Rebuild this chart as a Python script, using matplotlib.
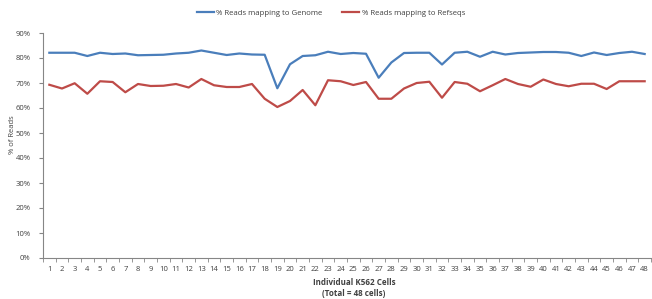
import matplotlib.pyplot as plt
import numpy as np
from matplotlib.ticker import FixedLocator, PercentFormatter

cells = list(range(1, 49))

genome_pct = [82.1, 82.1, 82.1, 80.8, 82.1, 81.6, 81.8, 81.1, 81.2, 81.3,
              81.8, 82.1, 83.0, 82.1, 81.2, 81.8, 81.4, 81.3, 67.9, 77.5,
              80.8, 81.1, 82.5, 81.6, 82.0, 81.7, 72.1, 78.2, 82.0, 82.1,
              82.1, 77.4, 82.1, 82.5, 80.5, 82.5, 81.4, 82.0, 82.2, 82.4,
              82.4, 82.1, 80.8, 82.2, 81.2, 82.0, 82.5, 81.6]

refseq_pct = [69.3, 67.8, 69.9, 65.7, 70.7, 70.4, 66.3, 69.6, 68.8, 68.9,
              69.6, 68.2, 71.6, 69.1, 68.4, 68.4, 69.6, 63.7, 60.4, 62.8,
              67.2, 61.1, 71.1, 70.7, 69.2, 70.4, 63.7, 63.7, 67.8, 70.0,
              70.5, 64.1, 70.4, 69.7, 66.7, 69.1, 71.6, 69.6, 68.5, 71.4,
              69.6, 68.7, 69.7, 69.7, 67.6, 70.7, 70.7, 70.7]

plt.rcParams['font.family'] = ['Open Sans', 'DejaVu Sans']
text_col = '#404040'
axis_col = '#868686'

fig = plt.figure(figsize=(6.52, 2.99), dpi=100)
ax = fig.add_axes([43 / 652, 1 - 258 / 299, 608 / 652, 225 / 299])

ax.plot(cells, genome_pct, color='#4A7EBB', lw=1.6, label='% Reads mapping to Genome')
ax.plot(cells, refseq_pct, color='#BE4B48', lw=1.6, label='% Reads mapping to Refseqs')

ax.set_xlim(0.5, 48.5)
ax.set_ylim(0, 90)
ax.set_yticks(np.arange(0, 91, 10))
ax.yaxis.set_major_formatter(PercentFormatter(decimals=0))
ax.set_xticks(cells)
ax.xaxis.set_minor_locator(FixedLocator(np.arange(0.5, 49, 1)))
ax.tick_params(axis='x', which='major', length=0, labelsize=5.5, colors=text_col, pad=6)
ax.tick_params(axis='x', which='minor', length=3, color=axis_col, direction='out')
ax.tick_params(axis='y', length=3, color=axis_col, labelsize=5.5, labelcolor=text_col, pad=6)

for side in ['top', 'right']:
    ax.spines[side].set_visible(False)
for side in ['left', 'bottom']:
    ax.spines[side].set_color(axis_col)
    ax.spines[side].set_linewidth(0.8)

ax.set_xlabel('Individual K562 Cells\n(Total = 48 cells)', fontsize=5.8, fontweight='bold',
              color=text_col, linespacing=1.25)
ax.xaxis.set_label_coords(311 / 608, -20 / 225)
ax.xaxis.label.set_va('top')
ax.set_ylabel('% of Reads', fontsize=5.5, color=text_col)
ax.yaxis.set_label_coords(-27 / 608, 0.547)

fig.legend(loc='center', bbox_to_anchor=(331 / 652, 1 - 13 / 299), ncol=2, frameon=False,
           fontsize=5.6, handlelength=2.2, handletextpad=0.3, columnspacing=2.5,
           labelcolor=text_col)

fig.savefig('out.png', dpi=100)
